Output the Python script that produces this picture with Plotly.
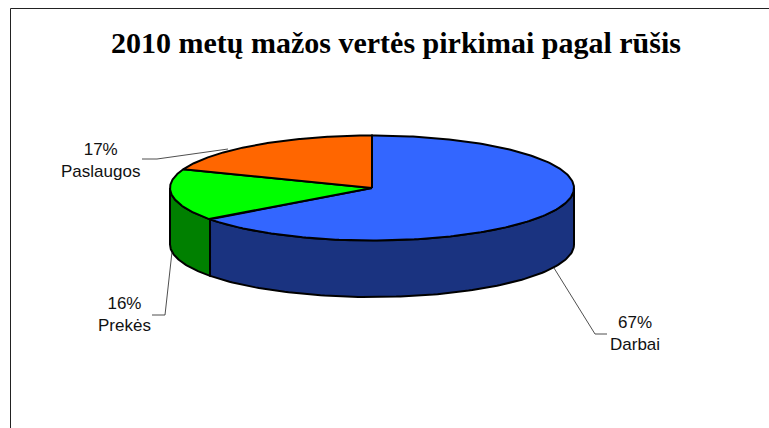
import numpy as np
import plotly.graph_objects as go

categories = ["Darbai", "Prekės", "Paslaugos"]
shares = [67, 16, 17]
top_colors = ["#3366FF", "#00FF00", "#FF6600"]
side_colors = ["#1A3380", "#008000", "#803300"]
title = "2010 metų mažos vertės pirkimai pagal rūšis"

W, H = 769, 428
CX, CY, RX, RY, DEPTH = 372, 188, 202, 52.5, 56.5
WARP = 9.0  # perspective foreshortening of slice angles, degrees


def warp(phi):
    return phi + WARP * np.sin(np.radians(phi))


def pt(theta, drop=0.0):
    t = np.radians(theta)
    return CX + RX * np.sin(t), CY - RY * np.cos(t) + drop


fig = go.Figure()
OUT = dict(color="black", width=2)

edges = 360 * np.cumsum([0] + shares) / sum(shares)
angles = [(warp(edges[i]), warp(edges[i + 1])) for i in range(len(shares))]

# side walls (front half only)
for (a, b), col in zip(angles, side_colors):
    lo, hi = max(a, 90), min(b, 270)
    if hi <= lo:
        continue
    th = np.linspace(lo, hi, 120)
    x1, y1 = pt(th)
    x2, y2 = pt(th[::-1], DEPTH)
    fig.add_trace(go.Scatter(x=np.r_[x1, x2, x1[0]], y=np.r_[y1, y2, y1[0]], mode="lines",
                             fill="toself", fillcolor=col, line=OUT, hoverinfo="skip"))

# top faces
for (a, b), col, name in zip(angles, top_colors, categories):
    th = np.linspace(a, b, 240)
    x, y = pt(th)
    fig.add_trace(go.Scatter(x=np.r_[CX, x, CX], y=np.r_[CY, y, CY], mode="lines", name=name,
                             fill="toself", fillcolor=col, line=OUT, hoverinfo="name"))

# leader lines
leaders = {
    "Darbai": ([607, 595, 554], [334, 334, 268]),
    "Prekės": ([152, 165, 172], [315, 315, 252]),
    "Paslaugos": ([142, 157, 228], [159, 159, 149]),
}
for name, (lx, ly) in leaders.items():
    fig.add_trace(go.Scatter(x=lx, y=ly, mode="lines", line=dict(color="#222222", width=0.8),
                             hoverinfo="skip"))

label_pos = {"Darbai": (635, 333.5), "Prekės": (124, 314), "Paslaugos": (100, 160)}
annotations = []
for name, share in zip(categories, shares):
    lx, ly = label_pos[name]
    annotations.append(dict(x=lx, y=ly, xref="x", yref="y", showarrow=False, align="center",
                            text=f"{share}%<br>{name}",
                            font=dict(family="Liberation Sans", size=17, color="#111111")))
annotations.append(dict(x=396, y=42, xref="x", yref="y", showarrow=False, xanchor="center", yanchor="middle",
                        text=f"<b>{title}</b>",
                        font=dict(family="Liberation Serif", size=30, color="black")))

fig.update_layout(
    width=W, height=H, autosize=False,
    margin=dict(l=0, r=0, t=0, b=0),
    paper_bgcolor="white", plot_bgcolor="white", showlegend=False,
    xaxis=dict(range=[0, W], visible=False, fixedrange=True),
    yaxis=dict(range=[H, 0], visible=False, fixedrange=True),
    annotations=annotations,
    shapes=[dict(type="rect", xref="x", yref="y", x0=10.5, y0=8.5, x1=W + 20, y1=H + 20,
                 line=dict(color="#222222", width=1), layer="below")],
)
fig.write_html("out.html", config={"displayModeBar": False},
               post_script="document.body.style.margin='0';")
